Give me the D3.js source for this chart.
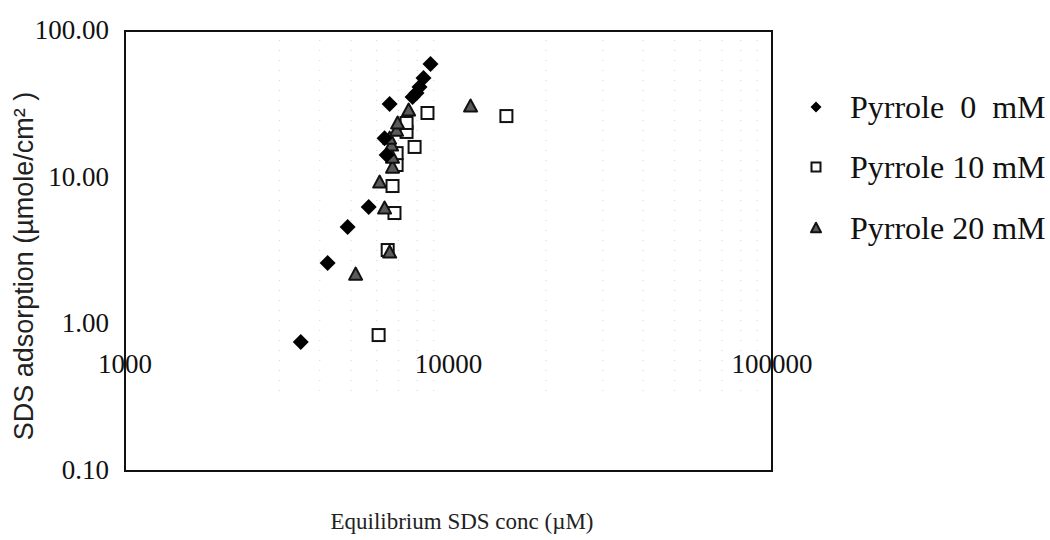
<!DOCTYPE html>
<html>
<head>
<meta charset="utf-8">
<script src="https://cdn.jsdelivr.net/npm/d3@7"></script>
<style>
  body { margin: 0; background: #fff; }
  text { white-space: pre; }
</style>
</head>
<body>
<div id="mainDiv"></div>
<script>
// series: [conc uM, adsorption]
var pyrrole0 = [
    [3493, 0.758], [4231, 2.62], [4877, 4.61], [5665, 6.31],
    [6344, 18.6], [6439, 14.3], [6577, 31.8], [7744, 35.5],
    [7962, 37.8], [8135, 41.5], [8370, 47.9], [8796, 59.6]
];
var pyrrole10 = [
    [6081, 0.845], [6487, 3.21], [6808, 5.74], [6714, 8.77],
    [6912, 12.2], [6912, 14.7], [7855, 16.2], [7419, 20.5],
    [7419, 23.6], [8610, 27.6], [15100, 26.3]
];
var pyrrole20 = [
    [5164, 2.20], [6577, 3.11], [6344, 6.21], [6124, 9.33],
    [6714, 11.8], [6714, 13.8], [6668, 16.7], [6577, 18.6],
    [6912, 21.1], [6961, 23.6], [7530, 28.9], [11700, 30.8]
];
var seriesNames = ["Pyrrole  0  mM", "Pyrrole 10 mM", "Pyrrole 20 mM"];
var xTicks = [1000, 10000, 100000];
var yTicks = [0.1, 1, 10, 100];
var xMinor = [3000, 4000, 5000, 6000, 7000, 8000, 9000, 20000, 30000, 40000, 50000, 60000, 70000, 80000, 90000];

var svg = d3.select("#mainDiv").append("svg").attr("width", 1050).attr("height", 540);

var x = d3.scaleLog().domain([1000, 100000]).range([125, 772]);
var y = d3.scaleLog().domain([0.1, 100]).range([471, 31]);

var serif = "'Liberation Serif', 'Times New Roman', serif";

// faint dotted minor grid (scan shows it very light)
svg.selectAll("line.minor").data(xMinor).enter().append("line")
    .attr("x1", d => x(d)).attr("x2", d => x(d))
    .attr("y1", 40).attr("y2", 400)
    .attr("stroke", "#d4d4d4").attr("stroke-width", 1)
    .attr("stroke-dasharray", "1 9");

// frame
svg.append("rect")
    .attr("x", x(1000)).attr("y", y(100))
    .attr("width", x(100000) - x(1000)).attr("height", y(0.1) - y(100))
    .attr("fill", "none").attr("stroke", "#111").attr("stroke-width", 2);

// y tick labels
svg.selectAll("text.ytick").data(yTicks).enter().append("text")
    .attr("x", 109).attr("y", d => y(d) + 8)
    .attr("text-anchor", "end")
    .style("font-family", serif).style("font-size", "27px").attr("fill", "#111")
    .text(d => d3.format(".2f")(d));

// x tick labels, sitting at the 1.00 level like the original
svg.selectAll("text.xtick").data(xTicks).enter().append("text")
    .attr("x", d => x(d)).attr("y", y(1) + 49)
    .attr("text-anchor", "middle")
    .style("font-family", serif).style("font-size", "27px").attr("fill", "#111")
    .text(d => d);

// axis titles
svg.append("text")
    .attr("transform", "translate(33,266) rotate(-90)")
    .attr("text-anchor", "middle")
    .style("font-family", "'Liberation Sans', Arial, sans-serif").style("font-size", "27px").attr("fill", "#222")
    .text("SDS adsorption (\u00b5mole/cm\u00b2 )");

svg.append("text")
    .attr("x", 462).attr("y", 529)
    .attr("text-anchor", "middle")
    .style("font-family", serif).style("font-size", "23px").attr("fill", "#222")
    .text("Equilibrium SDS conc (\u00b5M)");

// marker drawers
function diamond(g, cx, cy, r) {
    g.append("path")
        .attr("d", "M" + cx + "," + (cy - r) + "L" + (cx + r) + "," + cy + "L" + cx + "," + (cy + r) + "L" + (cx - r) + "," + cy + "Z")
        .attr("fill", "#000");
}
function square(g, cx, cy, s) {
    g.append("rect")
        .attr("x", cx - s / 2).attr("y", cy - s / 2).attr("width", s).attr("height", s)
        .attr("fill", "#fff").attr("stroke", "#111").attr("stroke-width", 2);
}
function triangle(g, cx, cy, s) {
    var h = s * 0.85;
    g.append("path")
        .attr("d", "M" + cx + "," + (cy - h / 2 - 1) + "L" + (cx + s / 2) + "," + (cy + h / 2) + "L" + (cx - s / 2) + "," + (cy + h / 2) + "Z")
        .attr("fill", "#5a5a5a").attr("stroke", "#111").attr("stroke-width", 2)
        .attr("stroke-linejoin", "round");
}

var marks = svg.append("g");
pyrrole10.forEach(function(d) { square(marks, x(d[0]), y(d[1]), 12); });
pyrrole20.forEach(function(d) { triangle(marks, x(d[0]), y(d[1]), 13); });
pyrrole0.forEach(function(d) { diamond(marks, x(d[0]), y(d[1]), 8); });

// legend
var legY = [107, 167, 228];
var leg = svg.append("g");
diamond(leg, 816, legY[0], 5.5);
square(leg, 816, legY[1], 9);
triangle(leg, 816, legY[2], 10);
seriesNames.forEach(function(name, i) {
    leg.append("text")
        .attr("x", 850).attr("y", legY[i] + 11)
        .style("font-family", serif).style("font-size", "32px").attr("fill", "#111")
        .text(name);
});
</script>
</body>
</html>
